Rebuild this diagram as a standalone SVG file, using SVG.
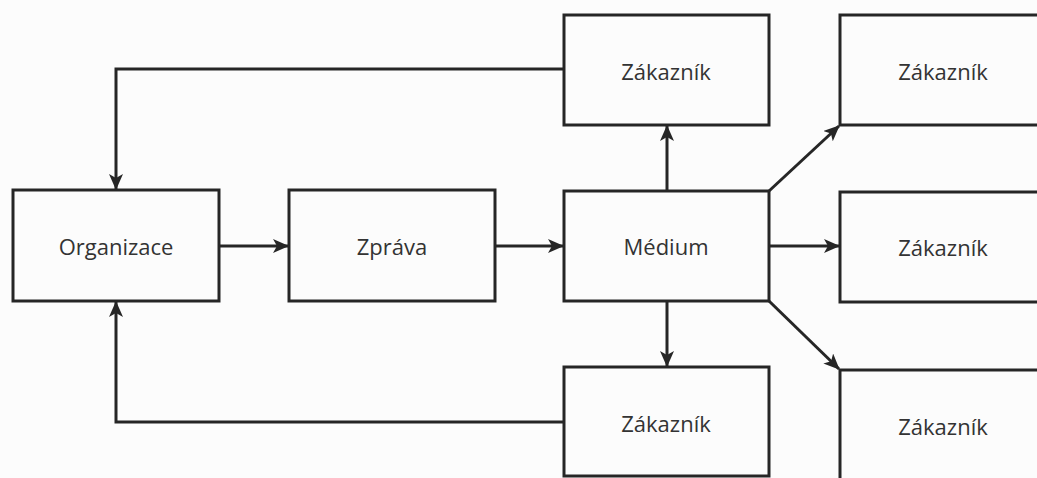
<svg xmlns="http://www.w3.org/2000/svg" width="1037" height="478" viewBox="0 0 1037 478">
<style>
.box{fill:none;stroke:#262626;stroke-width:3}
.lbl{font-family:"Open Sans","Liberation Sans",sans-serif;font-size:22px;fill:#333;text-anchor:middle;dominant-baseline:central}
.con{fill:none;stroke:#262626;stroke-width:3}
</style>
<defs>
<marker id="ah" viewBox="0 0 16 14" refX="15" refY="7" markerWidth="16" markerHeight="14" markerUnits="userSpaceOnUse" orient="auto">
<path d="M0,0 L16,7 L0,14 L4,7 Z" fill="#262626"/>
</marker>
</defs>
<rect width="1037" height="478" fill="#fcfcfc"/>
<g id="connectors">
<polyline class="con" points="564,69 116,69 116,189" marker-end="url(#ah)"/>
<polyline class="con" points="564,422 116,422 116,302" marker-end="url(#ah)"/>
<line class="con" x1="219" y1="246" x2="288" y2="246" marker-end="url(#ah)"/>
<line class="con" x1="495" y1="246" x2="563" y2="246" marker-end="url(#ah)"/>
<line class="con" x1="667" y1="191" x2="667" y2="126" marker-end="url(#ah)"/>
<line class="con" x1="667" y1="301" x2="667" y2="366" marker-end="url(#ah)"/>
<line class="con" x1="769" y1="246" x2="839" y2="246" marker-end="url(#ah)"/>
<line class="con" x1="769" y1="191" x2="839" y2="126" marker-end="url(#ah)"/>
<line class="con" x1="769" y1="301" x2="839" y2="369" marker-end="url(#ah)"/>
</g>
<g id="organizace"><rect class="box" x="13" y="190" width="206" height="111"/><text class="lbl" x="116" y="246">Organizace</text></g>
<g id="zprava"><rect class="box" x="289" y="190" width="206" height="111"/><text class="lbl" x="392" y="246">Zpráva</text></g>
<g id="medium"><rect class="box" x="564" y="191" width="205" height="110"/><text class="lbl" x="666" y="246">Médium</text></g>
<g id="zakaznik-top"><rect class="box" x="564" y="15" width="205" height="110"/><text class="lbl" x="666" y="71">Zákazník</text></g>
<g id="zakaznik-bottom"><rect class="box" x="564" y="367" width="205" height="109"/><text class="lbl" x="666" y="423">Zákazník</text></g>
<g id="zakaznik-r1"><rect class="box" x="840" y="15" width="210" height="110"/><text class="lbl" x="943" y="71">Zákazník</text></g>
<g id="zakaznik-r2"><rect class="box" x="840" y="192" width="210" height="110"/><text class="lbl" x="943" y="247">Zákazník</text></g>
<g id="zakaznik-r3"><rect class="box" x="840" y="370" width="210" height="120"/><text class="lbl" x="943" y="426">Zákazník</text></g>
</svg>
